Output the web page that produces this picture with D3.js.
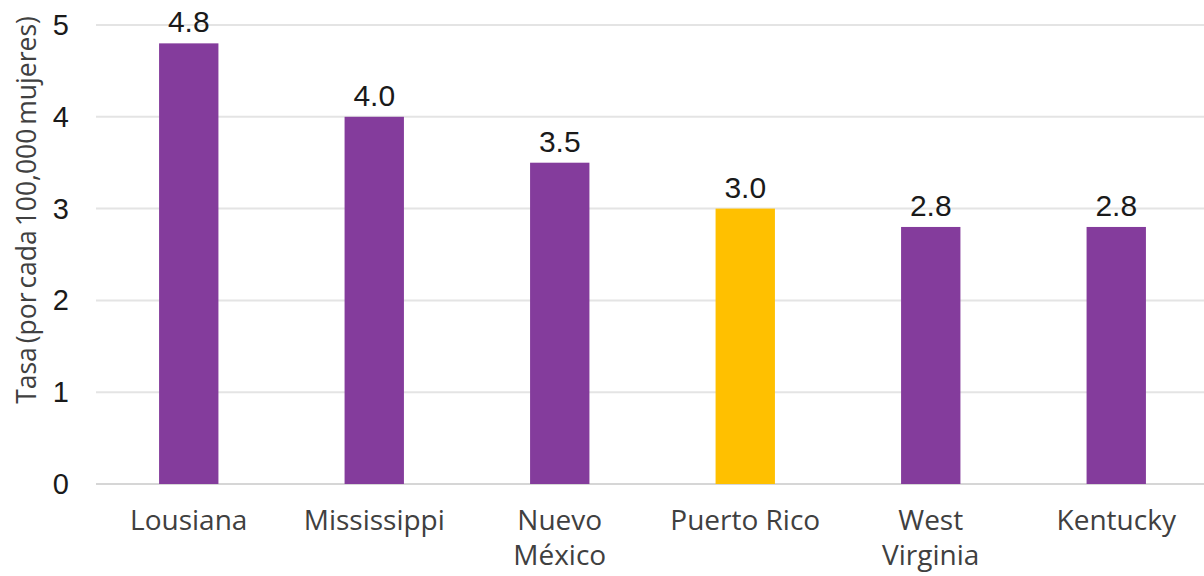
<!DOCTYPE html>
<html>
<head>
<meta charset="utf-8">
<script src="https://cdn.jsdelivr.net/npm/d3@7"></script>
<style>
  body { margin: 0; background: #fff; }
  svg { display: block; }
</style>
</head>
<body>
<div id="chart"></div>
<script>
var states = ["Lousiana", "Mississippi", "Nuevo México", "Puerto Rico", "West Virginia", "Kentucky"];
var stateLines = [["Lousiana"], ["Mississippi"], ["Nuevo", "México"], ["Puerto Rico"], ["West", "Virginia"], ["Kentucky"]];
var rates = [4.8, 4.0, 3.5, 3.0, 2.8, 2.8];
var highlight = "Puerto Rico";
var yTicks = [0, 1, 2, 3, 4, 5];
var yTitle = "Tasa (por cada 100,000 mujeres)";

var width = 1204, height = 576;

var svg = d3.select("#chart")
  .append("svg")
  .attr("width", width)
  .attr("height", height);

var x = d3.scaleBand()
  .domain(states)
  .range([96, 1209])
  .paddingInner(0.68)
  .paddingOuter(0.34);

var y = d3.scaleLinear()
  .domain([0, 5])
  .range([484, 25]);

// gridlines
svg.append("g")
  .selectAll("line")
  .data(yTicks)
  .enter()
  .append("line")
  .attr("x1", 96)
  .attr("x2", width)
  .attr("y1", function(d) { return y(d); })
  .attr("y2", function(d) { return y(d); })
  .attr("stroke", function(d) { return d === 0 ? "#d6d6d6" : "#e4e4e4"; })
  .attr("stroke-width", 2);

// y tick labels
svg.append("g")
  .selectAll("text")
  .data(yTicks)
  .enter()
  .append("text")
  .attr("x", 69)
  .attr("y", function(d) { return y(d) + 10; })
  .attr("text-anchor", "end")
  .attr("font-family", "Liberation Sans, Arial, sans-serif")
  .attr("font-size", "29px")
  .attr("fill", "#1a1a1a")
  .text(function(d) { return d; });

// y axis title
svg.append("text")
  .attr("transform", "translate(36,210) rotate(-90)")
  .attr("text-anchor", "middle")
  .attr("font-family", "Open Sans, sans-serif")
  .attr("font-size", "26.5px")
  .attr("word-spacing", "-3px")
  .attr("fill", "#404040")
  .text(yTitle);

// bars
svg.append("g")
  .selectAll("rect")
  .data(states)
  .enter()
  .append("rect")
  .attr("x", function(d) { return x(d); })
  .attr("width", x.bandwidth())
  .attr("y", function(d, i) { return y(rates[i]); })
  .attr("height", function(d, i) { return y(0) - y(rates[i]); })
  .attr("fill", function(d) { return d === highlight ? "#ffc000" : "#843c9c"; });

// value labels
svg.append("g")
  .selectAll("text")
  .data(states)
  .enter()
  .append("text")
  .attr("x", function(d) { return x(d) + x.bandwidth() / 2; })
  .attr("y", function(d, i) { return y(rates[i]) - 11; })
  .attr("text-anchor", "middle")
  .attr("font-family", "Liberation Sans, Arial, sans-serif")
  .attr("font-size", "30px")
  .attr("fill", "#1a1a1a")
  .text(function(d, i) { return rates[i].toFixed(1); });

// category labels
var cats = svg.append("g")
  .selectAll("text")
  .data(states)
  .enter()
  .append("text")
  .attr("text-anchor", "middle")
  .attr("font-family", "Open Sans, sans-serif")
  .attr("font-size", "28px")
  .attr("fill", "#404040");

cats.each(function(d, i) {
  var cx = x(d) + x.bandwidth() / 2;
  d3.select(this)
    .selectAll("tspan")
    .data(stateLines[i])
    .enter()
    .append("tspan")
    .attr("x", cx)
    .attr("y", function(t, j) { return 530 + j * 35; })
    .text(function(t) { return t; });
});
</script>
</body>
</html>
